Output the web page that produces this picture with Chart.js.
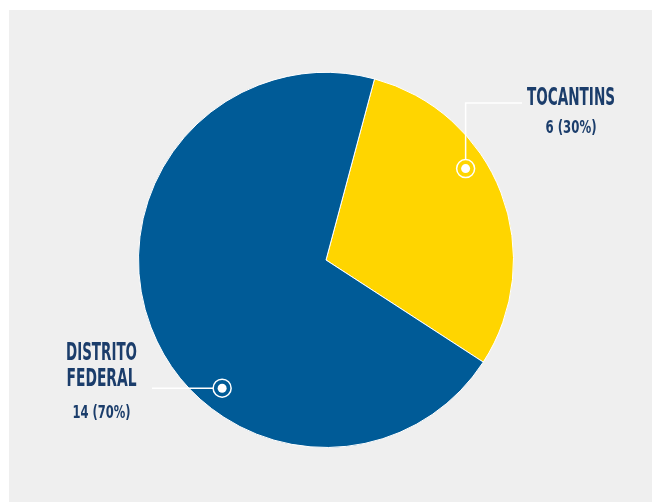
<!DOCTYPE html>
<html>
<head>
<meta charset="utf-8">
<script src="https://cdn.jsdelivr.net/npm/chart.js@4/dist/chart.umd.min.js"></script>
<style>
  html, body { margin: 0; padding: 0; background: #ffffff; width: 652px; height: 502px; overflow: hidden; }
  #bg { position: absolute; left: 9px; top: 10px; right: 0; bottom: 0; background: #efefef; }
  #wrap { position: absolute; left: 0; top: 0; width: 652px; height: 502px; }
</style>
</head>
<body>
<div id="bg"></div>
<div id="wrap"><canvas id="c" width="652" height="502"></canvas></div>
<script>
// ---- data ----
const categories = ["TOCANTINS", "DISTRITO FEDERAL"];
const labelLines = [["TOCANTINS"], ["DISTRITO", "FEDERAL"]];
const values = [6, 14];
const percents = ["30%", "70%"];
const colors = ["#ffd500", "#005b97"];

const TEXT_COLOR = "#1b3d6b";
const FONT_STACK = "'Liberation Sans Narrow', 'DejaVu Sans Condensed', 'Liberation Sans', sans-serif";

// draw text squeezed horizontally to a given width (condensed display look)
function drawFitText(ctx, text, cx, baseline, size, width) {
  ctx.save();
  ctx.font = "bold " + size + "px " + FONT_STACK;
  const w = ctx.measureText(text).width;
  const sx = width / w;
  ctx.translate(cx, baseline);
  ctx.scale(sx, 1);
  ctx.textAlign = "center";
  ctx.textBaseline = "alphabetic";
  ctx.fillStyle = TEXT_COLOR;
  ctx.fillText(text, 0, 0);
  ctx.restore();
}

const calloutPlugin = {
  id: "callouts",
  afterDatasetsDraw(chart) {
    const ctx = chart.ctx;
    const meta = chart.getDatasetMeta(0);
    const cfg = [
      { frac: 0.387, rad: 0.89, textX: 571, lineY: 103, lineEndX: 522, nameBase: [105], nameW: [88], numBase: 133, numW: 51, kind: "up" },
      { frac: 0.381, rad: 0.88, textX: 101.5, lineY: null, lineEndX: 152, nameBase: [360, 386], nameW: [71, 70], numBase: 418, numW: 58, kind: "left" }
    ];
    meta.data.forEach((arc, i) => {
      const p = arc.getProps(["x", "y", "startAngle", "endAngle", "outerRadius"], true);
      const c = cfg[i];
      const a = p.startAngle + (p.endAngle - p.startAngle) * c.frac;
      const r = p.outerRadius * c.rad;
      const dx = p.x + Math.cos(a) * r;
      const dy = p.y + Math.sin(a) * r;

      ctx.save();
      ctx.strokeStyle = "#ffffff";
      ctx.lineWidth = 1.5;
      ctx.beginPath();
      if (c.kind === "up") {
        ctx.moveTo(dx, dy - 9);
        ctx.lineTo(dx, c.lineY);
        ctx.lineTo(c.lineEndX, c.lineY);
      } else {
        ctx.moveTo(dx - 9, dy);
        ctx.lineTo(c.lineEndX, dy);
      }
      ctx.stroke();
      ctx.beginPath();
      ctx.arc(dx, dy, 9, 0, Math.PI * 2);
      ctx.stroke();
      ctx.fillStyle = "#ffffff";
      ctx.beginPath();
      ctx.arc(dx, dy, 4.5, 0, Math.PI * 2);
      ctx.fill();
      ctx.restore();

      labelLines[i].forEach((line, k) => {
        drawFitText(ctx, line, c.textX, c.nameBase[k], 25, c.nameW[k]);
      });
      drawFitText(ctx, values[i] + " (" + percents[i] + ")", c.textX, c.numBase, 18, c.numW);
    });
  }
};

new Chart(document.getElementById("c"), {
  type: "pie",
  data: {
    labels: categories,
    datasets: [{
      data: values,
      backgroundColor: colors,
      borderColor: "#ffffff",
      borderWidth: 1
    }]
  },
  options: {
    responsive: false,
    animation: false,
    rotation: 15,
    layout: { padding: { top: 72, bottom: 54, left: 0, right: 0 } },
    plugins: {
      legend: { display: false },
      tooltip: { enabled: false }
    }
  },
  plugins: [calloutPlugin]
});
</script>
</body>
</html>
